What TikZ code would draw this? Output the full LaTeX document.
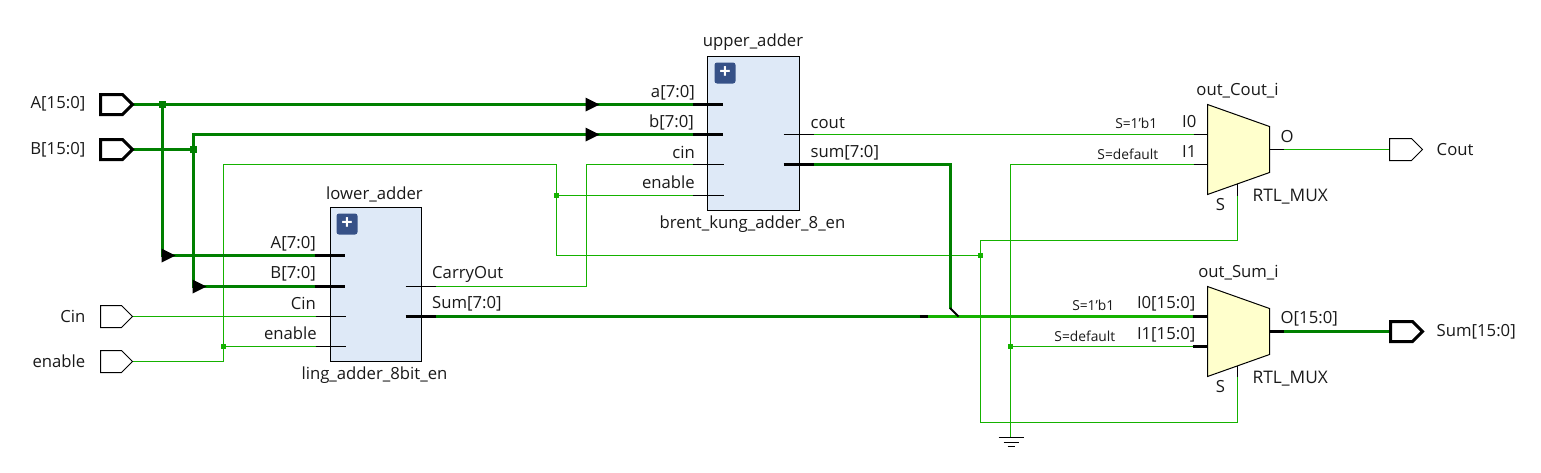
\documentclass[tikz,border=0pt]{standalone}
\usepackage{fontspec}
\setmainfont{Open Sans}
\definecolor{dkgreen}{RGB}{0,128,0}
\definecolor{ltgreen}{RGB}{21,178,0}
\definecolor{blockfill}{RGB}{222,233,247}
\definecolor{muxfill}{RGB}{255,255,204}
\definecolor{plusblue}{RGB}{54,81,135}
\tikzset{
  bus/.style={draw=dkgreen,line width=3pt,line join=miter},
  busl/.style={draw=ltgreen,line width=3pt},
  wire/.style={draw=ltgreen,line width=1pt,line join=miter},
  pinthick/.style={draw=black,line width=3pt},
  pinthin/.style={draw=black,line width=1pt},
  block/.style={draw=black,fill=blockfill,line width=1pt,minimum width=92pt,minimum height=154pt,inner sep=0pt},
  mux/.style={draw=black,fill=muxfill,line width=1pt,line join=miter},
  portthin/.style={draw=black,fill=white,line width=1pt},
  portthick/.style={draw=black,fill=white,line width=3pt},
  lab/.style={font=\fontsize{16.7}{19}\selectfont,text=black!90,inner sep=0pt},
  smalllab/.style={font=\fontsize{13.8}{15}\selectfont,text=black!90,inner sep=0pt},
  labl/.style={lab,anchor=east},
  labr/.style={lab,anchor=west},
  rtllab/.style={labr,font=\fontsize{17.3}{19}\selectfont},
  junc/.style={fill=ltgreen,minimum size=5pt,inner sep=0pt},
  juncd/.style={fill=dkgreen,minimum size=7pt,inner sep=0pt},
  tri/.style={fill=black,draw=none},
  plusbox/.style={fill=plusblue,rounded corners=2.5pt,minimum size=21pt,inner sep=0pt,text=white,font=\bfseries\fontsize{20}{20}\selectfont},
}
\begin{document}
\begin{tikzpicture}[x=1pt,y=-1pt]
\useasboundingbox (0,0) rectangle (1541,472);
\begin{scope}[shift={(0.5,0.5)}]
% named coordinates
\coordinate (pAo) at (132,104);
\coordinate (pBo) at (132,149);
\coordinate (pCo) at (132,316);
\coordinate (pEo) at (132,361);
\coordinate (uA) at (692,104);
\coordinate (uAe) at (722,104);
\coordinate (uB) at (692,134);
\coordinate (uBe) at (722,134);
\coordinate (uC) at (692,164);
\coordinate (uCe) at (723,164);
\coordinate (uE) at (692,195);
\coordinate (uEe) at (723,195);
\coordinate (uCob) at (783,134);
\coordinate (uCo) at (813,134);
\coordinate (uSb) at (783,164);
\coordinate (uS) at (813,164);
\coordinate (lA) at (314,255);
\coordinate (lAe) at (344,255);
\coordinate (lB) at (314,286);
\coordinate (lBe) at (344,286);
\coordinate (lC) at (315,316);
\coordinate (lCe) at (345,316);
\coordinate (lE) at (315,346);
\coordinate (lEe) at (345,346);
\coordinate (lCob) at (405,286);
\coordinate (lCo) at (435,286);
\coordinate (lSb) at (405,316);
\coordinate (lS) at (435,316);
\coordinate (m1a) at (1193,134);
\coordinate (m1ae) at (1207,134);
\coordinate (m1b) at (1193,164);
\coordinate (m1be) at (1207,164);
\coordinate (m1ob) at (1269,149);
\coordinate (m1o) at (1283,149);
\coordinate (m1s) at (1237,183);
\coordinate (m1se) at (1237,195);
\coordinate (m2a) at (1192,316);
\coordinate (m2ae) at (1207,316);
\coordinate (m2b) at (1192,346);
\coordinate (m2be) at (1207,346);
\coordinate (m2ob) at (1269,331);
\coordinate (m2o) at (1283,331);
\coordinate (m2s) at (1237,365);
\coordinate (m2se) at (1237,376);
\coordinate (pCout) at (1389,149);
\coordinate (pSum) at (1390,331);
\coordinate (gnd) at (1010,437);
% junction nodes
\node[juncd] (jA) at (162,104) {};
\node[juncd] (jB) at (193,149) {};
\node[junc] (jE1) at (223,346) {};
\node[junc] (jE2) at (556,195) {};
\node[junc] (jE3) at (980,255) {};
\node[junc] (jG) at (1010,346) {};
% wires
\draw[wire] (pEo) -| (jE1.center) -- (223,164) -| (jE2.center) -- (556,255) -- (jE3.center);
\draw[wire] (jE1) -- (lE);
\draw[wire] (jE2) -- (uE);
\draw[wire] (pCo) -- (lC);
\draw[wire] (lCo) -- (586,286) -- (586,164) -- (uC);
\draw[wire] (uCo) -- (m1a);
\draw[wire] (m1b) -- (1010,164) -- (gnd);
\draw[wire] (jG) -- (m2b);
\draw[wire] (m1se) -- (1237,240) -- (980,240) -- (980,422) -- (1237,422) -- (m2se);
\draw[wire] (m1o) -- (pCout);
% buses
\draw[bus] (pAo) -- (uA);
\draw[bus] (jA.center) -- (162,255) -- (lA);
\draw[bus] (pBo) -- (jB.center);
\draw[bus] (193,149) -- (193,134) -- (uB);
\draw[bus] (193,149) -- (193,286) -- (lB);
\draw[bus] (lS) -- (919,316);
\draw[bus] (uS) -- (950,164) -- (950,308);
\draw[busl] (927,316) -- (m2a);
\draw[bus] (m2o) -- (pSum);
\draw[pinthick] (919,316) -- (927,316);
\draw[draw=black,line width=2pt] (949.5,307.5) -- (958,316);
% arrowheads
\fill[tri] (585,97) -- (599,104) -- (585,111) -- cycle;
\fill[tri] (585,127) -- (599,134) -- (585,141) -- cycle;
\fill[tri] (161,248) -- (175,255) -- (161,262) -- cycle;
\fill[tri] (192,279) -- (206,286) -- (192,293) -- cycle;
% blocks
\node[block] (upper) at (752.5,133) {};
\node[block,minimum width=91pt] (lower) at (375,284) {};
\node[plusbox] (uplus) at (724.5,72.5) {+};
\node[plusbox] (lplus) at (346.5,223.5) {+};
% pins
\draw[pinthick] (uA) -- (uAe);
\draw[pinthick] (uB) -- (uBe);
\draw[pinthin] (uC) -- (uCe);
\draw[pinthin] (uE) -- (uEe);
\draw[pinthin] (uCob) -- (uCo);
\draw[pinthick] (uSb) -- (uS);
\draw[pinthick] (lA) -- (lAe);
\draw[pinthick] (lB) -- (lBe);
\draw[pinthin] (lC) -- (lCe);
\draw[pinthin] (lE) -- (lEe);
\draw[pinthin] (lCob) -- (lCo);
\draw[pinthick] (lSb) -- (lS);
% muxes
\draw[mux] (1207,104) -- (1269,126) -- (1269,172) -- (1207,194) -- cycle;
\draw[mux] (1207,286) -- (1269,308) -- (1269,354) -- (1207,376) -- cycle;
\draw[pinthin] (m1a) -- (m1ae);
\draw[pinthin] (m1b) -- (m1be);
\draw[pinthin] (m1ob) -- (m1o);
\draw[pinthin] (m1s) -- (m1se);
\draw[pinthick] (m2a) -- (m2ae);
\draw[pinthick] (m2b) -- (m2be);
\draw[pinthick] (m2ob) -- (m2o);
\draw[pinthin] (m2s) -- (m2se);
% ports
\draw[portthick] (100,94) -- (122,94) -- (132,104) -- (122,114) -- (100,114) -- cycle;
\draw[portthick] (100,139) -- (122,139) -- (132,149) -- (122,159) -- (100,159) -- cycle;
\draw[portthin] (100,305) -- (121,305) -- (132,316) -- (121,327) -- (100,327) -- cycle;
\draw[portthin] (100,350) -- (121,350) -- (132,361) -- (121,372) -- (100,372) -- cycle;
\draw[portthin] (1389,138) -- (1411,138) -- (1422,149) -- (1411,160) -- (1389,160) -- cycle;
\draw[portthick] (1390,321) -- (1412,321) -- (1422,331) -- (1412,341) -- (1390,341) -- cycle;
% ground
\draw[pinthin] (998,437) -- (1023,437);
\draw[pinthin] (1003,442) -- (1018,442);
\draw[pinthin] (1007,446) -- (1014,446);
% labels
\node[labl] (tA) at (85,103.5) {A[15:0]};
\node[labl] (tB) at (85,149) {B[15:0]};
\node[labl] (tC) at (85,315.5) {Cin};
\node[labl] (tE) at (85,360.5) {enable};
\node[lab] (tu) at (752.5,42) {upper\_adder};
\node[lab] (tub) at (752,223.5) {brent\_kung\_adder\_8\_en};
\node[labl] (tua) at (694.5,92) {a[7:0]};
\node[labl] (tubb) at (693.5,122) {b[7:0]};
\node[labl] (tuc) at (694.5,152) {cin};
\node[labl] (tue) at (694.5,182) {enable};
\node[labr] (tuco) at (810,122.5) {cout};
\node[labr] (tus) at (810,152.5) {sum[7:0]};
\node[lab] (tl) at (374,193.5) {lower\_adder};
\node[lab] (tlb) at (374,374.5) {ling\_adder\_8bit\_en};
\node[labl] (tla) at (315.5,243.5) {A[7:0]};
\node[labl] (tlbb) at (315.5,273.5) {B[7:0]};
\node[labl] (tlc) at (315.5,303) {Cin};
\node[labl] (tle) at (316.5,333) {enable};
\node[labr] (tlco) at (431.5,273.5) {CarryOut};
\node[labr] (tls) at (431.5,303.5) {Sum[7:0]};
\node[lab] (tm1) at (1237,90.5) {out\_Cout\_i};
\node[lab] (tm2) at (1238,272.5) {out\_Sum\_i};
\node[labl] (t1a) at (1196,121.5) {I0};
\node[labl] (t1b) at (1196,151.5) {I1};
\node[smalllab,anchor=east] (t1as) at (1157,123) {S=1'b1};
\node[smalllab,anchor=east] (t1bs) at (1158,154) {S=default};
\node[labr] (t1o) at (1280,136.5) {O};
\node[lab] (t1s) at (1220,204.5) {S};
\node[rtllab] (t1r) at (1252,196) {RTL\_MUX};
\node[labl] (t2a) at (1195,303.5) {I0[15:0]};
\node[labl] (t2b) at (1195,334) {I1[15:0]};
\node[smalllab,anchor=east] (t2as) at (1114,305) {S=1'b1};
\node[smalllab,anchor=east] (t2bs) at (1115,336) {S=default};
\node[labr] (t2o) at (1280,318.5) {O[15:0]};
\node[lab] (t2s) at (1220,386.5) {S};
\node[rtllab] (t2r) at (1252,378) {RTL\_MUX};
\node[labr] (tCo) at (1436,149) {Cout};
\node[labr] (tSu) at (1436,331) {Sum[15:0]};
\end{scope}
\end{tikzpicture}
\end{document}
